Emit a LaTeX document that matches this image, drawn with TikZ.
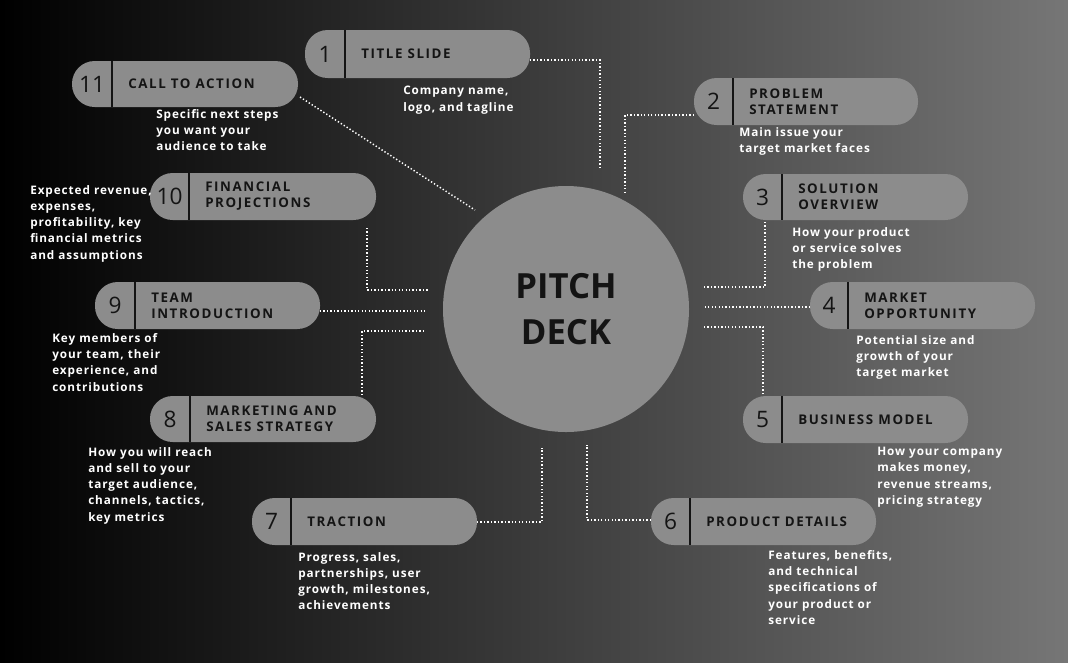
\documentclass[tikz,border=0pt]{standalone}
\usepackage{fontspec}
\setmainfont{Open Sans}
\newfontfamily\tfont[LetterSpace=12]{Open Sans Bold}
\newfontfamily\dfont[LetterSpace=8]{Open Sans Bold}
\newfontfamily\nfont{Open Sans}
\definecolor{pillc}{RGB}{140,140,140}
\definecolor{ink}{RGB}{20,20,20}
\tikzset{x=0.75pt,y=-0.75pt,
 pillbox/.style={fill=pillc,rounded corners=17pt},
 ttl/.style={font=\tfont\fontsize{10}{12}\selectfont,text=ink,align=left,anchor=west,inner sep=0},
 num/.style={font=\nfont\fontsize{17}{17}\selectfont,text=ink,inner sep=0},
 desc/.style={font=\dfont\fontsize{8.8}{12.2}\selectfont,text=white,align=left,anchor=north west,inner sep=0},
 dots/.style={white,line width=1.1pt,dash pattern=on 1pt off 1.6pt}}
\newcommand{\pill}[8]{%
 \fill[pillbox] (#2,#3) rectangle (#4,#5);
 \draw[ink,line width=1.5pt] (#6,#3) -- (#6,#5);
 \node[num] (n#1) at ({(#2+#6)/2},{(#3+#5)/2}) {#7};
 \node[ttl] (t#1) at (#6+16,{(#3+#5)/2}) {#8};
 \coordinate (p#1) at ({(#2+#4)/2},{(#3+#5)/2});}
\begin{document}
\begin{tikzpicture}
\shade[left color=black,right color={rgb,255:red,118;green,118;blue,118}] (0,0) rectangle (1068,662);
\useasboundingbox (0,0) rectangle (1068,662);
\fill[pillc] (566,309) circle[radius=123];
\node[font=\fontspec{Open Sans Bold}\fontsize{26}{34}\selectfont,text=ink,align=center] (c) at (566,309) {PITCH\\DECK};
% connectors
\coordinate (a1) at (530,60); \coordinate (b1) at (600,170);
\draw[dots] (a1) -| (b1);
\coordinate (a2) at (694,115); \coordinate (b2) at (625,192);
\draw[dots] (a2) -| (b2);
\coordinate (a11) at (300,97); \coordinate (b11) at (475,210);
\draw[dots] (a11) -- (b11);
\coordinate (a10) at (367,228); \coordinate (b10) at (428,290);
\draw[dots] (a10) |- (b10);
\coordinate (a3) at (765,222); \coordinate (b3) at (703,287);
\draw[dots] (a3) |- (b3);
\coordinate (a9) at (320,311); \coordinate (b9) at (425,311);
\draw[dots] (a9) -- (b9);
\coordinate (a4) at (810,307); \coordinate (b4) at (705,307);
\draw[dots] (a4) -- (b4);
\coordinate (a5) at (763,394); \coordinate (b5) at (703,327);
\draw[dots] (a5) |- (b5);
\coordinate (a8) at (362,395); \coordinate (b8) at (425,331);
\draw[dots] (a8) |- (b8);
\coordinate (a7) at (477,522); \coordinate (b7) at (542,448);
\draw[dots] (a7) -| (b7);
\coordinate (a6) at (651,520); \coordinate (b6) at (587,445);
\draw[dots] (a6) -| (b6);
% pills
\pill{1}{305}{30}{530}{78}{345}{1}{TITLE SLIDE}
\pill{11}{72}{61}{298}{107}{112}{11}{CALL TO ACTION}
\pill{2}{694}{78}{918}{125}{733}{2}{PROBLEM\\STATEMENT}
\pill{10}{150}{173}{376}{220}{189}{10}{FINANCIAL\\PROJECTIONS}
\pill{3}{743}{174}{968}{220}{782}{3}{SOLUTION\\OVERVIEW}
\pill{9}{95}{282}{320}{329}{135}{9}{TEAM\\INTRODUCTION}
\pill{4}{810}{282}{1035}{329}{848}{4}{MARKET\\OPPORTUNITY}
\pill{8}{150}{396}{376}{442}{190}{8}{MARKETING AND\\SALES STRATEGY}
\pill{5}{743}{396}{968}{443}{782}{5}{BUSINESS MODEL}
\pill{7}{252}{498}{477}{545}{291}{7}{TRACTION}
\pill{6}{651}{498}{876}{545}{690}{6}{PRODUCT DETAILS}
% descriptions
\node[desc] (d1) at (403,86) {Company name,\\logo, and tagline};
\node[desc] (d11) at (156,109) {Specific next steps\\you want your\\audience to take};
\node[desc] (d2) at (739,127) {Main issue your\\target market faces};
\node[desc] (d10) at (30,185) {Expected revenue,\\expenses,\\profitability, key\\financial metrics\\and assumptions};
\node[desc] (d3) at (792,227) {How your product\\or service solves\\the problem};
\node[desc] (d9) at (52,333) {Key members of\\your team, their\\experience, and\\contributions};
\node[desc] (d4) at (856,335) {Potential size and\\growth of your\\target market};
\node[desc] (d8) at (88,447) {How you will reach\\and sell to your\\target audience,\\channels, tactics,\\key metrics};
\node[desc] (d5) at (877,447) {How your company\\makes money,\\revenue streams,\\pricing strategy};
\node[desc] (d7) at (298,552) {Progress, sales,\\partnerships, user\\growth, milestones,\\achievements};
\node[desc] (d6) at (768,550) {Features, benefits,\\and technical\\specifications of\\your product or\\service};
\end{tikzpicture}
\end{document}
